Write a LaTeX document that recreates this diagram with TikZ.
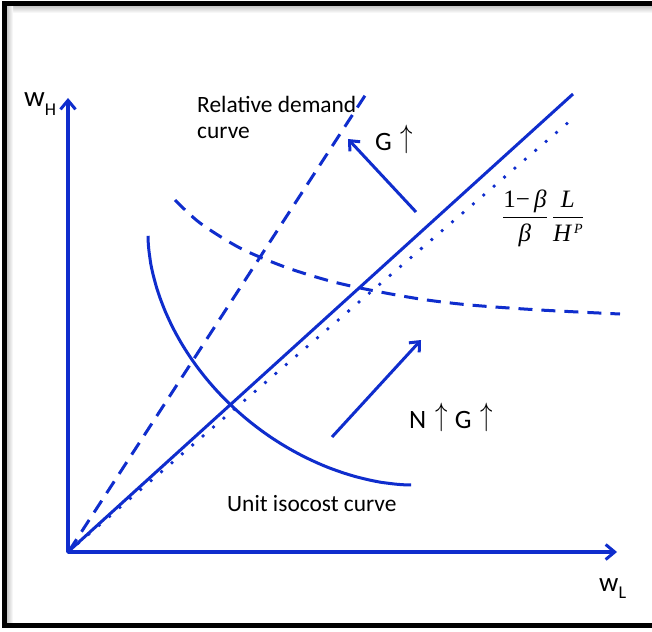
\documentclass[tikz,border=0pt]{standalone}
\usepackage{fontspec}
\setmainfont{Carlito}
\newfontfamily\tms{Liberation Serif}
\usepackage{amsmath}
\usepackage{graphicx}
\usetikzlibrary{arrows.meta}
\definecolor{lineblue}{RGB}{15,45,205}
\newcommand{\upar}{\raisebox{3pt}{\scalebox{1}[1.3]{$\uparrow$}}}
\begin{document}
\begin{tikzpicture}[x=1pt,y=-1pt,
  curve/.style={draw=lineblue,line width=3pt},
  dashline/.style={curve,dash pattern=on 14pt off 9pt},
  dotline/.style={draw=lineblue,line width=3.8pt,line cap=round,dash pattern=on 0pt off 13.7pt},
  axis/.style={draw=lineblue,line width=3.5pt,-{Straight Barb[length=9pt,width=15pt,line width=3pt]}},
  movearrow/.style={draw=lineblue,line width=3pt,-{Straight Barb[length=8pt,width=14pt,line width=3pt]}},
  lbl/.style={inner sep=0pt,anchor=base west,font=\fontsize{23.4}{28}\selectfont},
  biglbl/.style={inner sep=0pt,anchor=base west,font=\fontsize{26.5}{30}\selectfont},
]
\useasboundingbox (0,0) rectangle (652,631);
\fill[white] (0,0) rectangle (652,631);
% frame with soft shadow
\shade[top color=black!22,bottom color=white] (7,6) rectangle (652,13);
\shade[left color=black!22,right color=white] (7,6) rectangle (13,622);
\draw[line width=5pt,line join=miter] (652,3.5) -- (4.5,3.5) -- (4.5,625) -- (652,625);

% key points
\coordinate (O) at (68,552);
\coordinate (ytip) at (68,98);
\coordinate (xtip) at (617,552);
\coordinate (solidend) at (573,94);
\coordinate (dotend) at (571,120);
\coordinate (demandend) at (368,91);
\coordinate (gtail) at (416,212);
\coordinate (ghead) at (348,139);
\coordinate (ngtail) at (332,437);
\coordinate (nghead) at (421,340);

% curves
\draw[dotline] (O) -- (dotend);
\draw[curve] (69,551) -- (solidend);
\draw[dashline] (69,551) -- (demandend);
\draw[curve] plot[domain=0.3:89.7,samples=60,smooth] ({412-264*cos(\x)^1.1},{235+250*sin(\x)^1.1});
\draw[dashline] plot[smooth] coordinates {(175,200) (200,223) (240,248) (285,267) (330,281) (370,290) (420,299) (470,305) (540,310) (620,314)};

% shift arrows
\draw[movearrow] (gtail) -- (ghead);
\draw[movearrow] (ngtail) -- (nghead);

% axes
\draw[axis] (O) -- (ytip);
\draw[axis] (O) -- (xtip);

% labels
\node[lbl] (wh) at (24,107) {{\fontsize{29}{32}\selectfont w}{\fontsize{18}{20}\selectfont\raisebox{-9pt}{H}}};
\node[lbl] (wl) at (599,591) {{\fontsize{27}{30}\selectfont w}{\fontsize{18}{20}\selectfont\raisebox{-7pt}{L}}};
\node[lbl] (rd1) at (197,113) {Relative demand};
\node[lbl] (rd2) at (197,139) {curve};
\node[lbl] (iso) at (227,511) {Unit isocost curve};
\node[biglbl] (gup) at (375,150) {G\kern9pt\upar};
\node[biglbl] (ngup) at (409,428) {N\kern9pt\upar\kern7pt G\kern9pt\upar};
\node[inner sep=0pt,anchor=base] (frac) at (543,224) {\fontsize{25}{29}\selectfont
  $\displaystyle\frac{\hbox{\tms 1−\,\itshape β}}{\hbox{\tms\itshape β}}\,\frac{\hbox{\tms\itshape L}}{\hbox{\tms\itshape H\kern3pt\raisebox{8pt}{\fontsize{14}{16}\selectfont P}}}$};
\end{tikzpicture}
\end{document}
